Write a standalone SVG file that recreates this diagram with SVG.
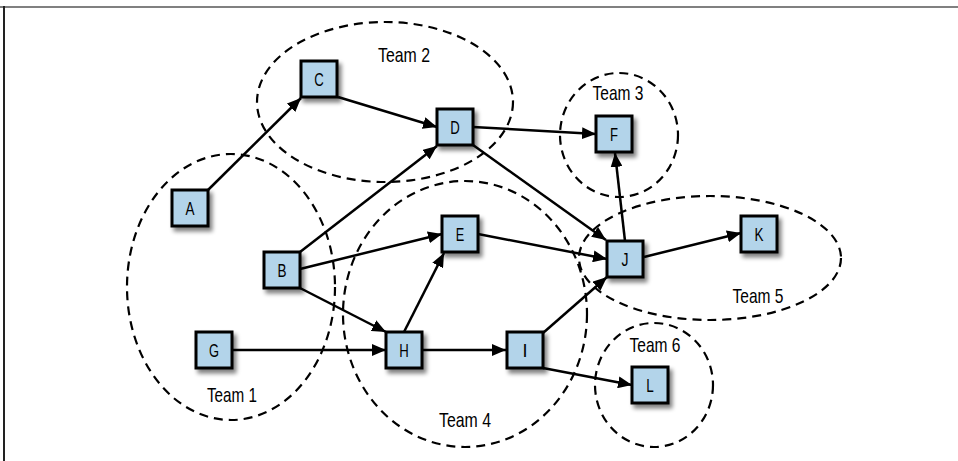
<svg xmlns="http://www.w3.org/2000/svg" width="958" height="461" viewBox="0 0 958 461">
<defs>
<marker id="ah" viewBox="0 0 14 12" refX="14" refY="6" markerWidth="14" markerHeight="12" markerUnits="userSpaceOnUse" orient="auto">
<path d="M0,0 L14,6 L0,12 Z" fill="#000"/>
</marker>
<filter id="sh" x="-30%" y="-30%" width="170%" height="170%">
<feGaussianBlur in="SourceAlpha" stdDeviation="2"/>
<feOffset dx="3" dy="4" result="b"/>
<feComponentTransfer><feFuncA type="linear" slope="0.5"/></feComponentTransfer>
<feMerge><feMergeNode/><feMergeNode in="SourceGraphic"/></feMerge>
</filter>
</defs>
<style>
.team{fill:none;stroke:#000;stroke-width:2.2;stroke-dasharray:9 6}
.box{fill:#b3d4ea;stroke:#000;stroke-width:3;filter:url(#sh)}
.lbl{font-family:"Liberation Sans Narrow","Liberation Sans",sans-serif;font-size:18px;fill:#000;text-anchor:middle}
.tl{font-family:"Liberation Sans Narrow","Liberation Sans",sans-serif;font-size:21px;fill:#000;text-anchor:middle}
.e{stroke:#000;stroke-width:2.5;fill:none;marker-end:url(#ah)}
</style>
<rect width="958" height="461" fill="#fff"/>
<line x1="0" y1="7" x2="958" y2="7" stroke="#808080" stroke-width="2"/>
<line x1="4" y1="6" x2="4" y2="461" stroke="#222" stroke-width="2"/>

<g id="teams">
<ellipse class="team" cx="231" cy="287" rx="104" ry="133"/>
<ellipse class="team" cx="385" cy="102" rx="128" ry="80"/>
<ellipse class="team" cx="619" cy="135" rx="59" ry="62"/>
<ellipse class="team" cx="465" cy="314" rx="122" ry="133"/>
<ellipse class="team" cx="710" cy="258" rx="131" ry="62"/>
<ellipse class="team" cx="654" cy="385" rx="59" ry="62"/>
<text class="tl" x="232" y="402" textLength="50" lengthAdjust="spacingAndGlyphs">Team 1</text>
<text class="tl" x="404" y="62" textLength="52" lengthAdjust="spacingAndGlyphs">Team 2</text>
<text class="tl" x="618" y="100" textLength="51" lengthAdjust="spacingAndGlyphs">Team 3</text>
<text class="tl" x="465" y="427" textLength="52" lengthAdjust="spacingAndGlyphs">Team 4</text>
<text class="tl" x="758" y="303" textLength="51" lengthAdjust="spacingAndGlyphs">Team 5</text>
<text class="tl" x="655" y="352" textLength="51" lengthAdjust="spacingAndGlyphs">Team 6</text>
</g>

<g id="connectors">
<line class="e" x1="208" y1="190" x2="301" y2="98"/>
<line class="e" x1="338" y1="97" x2="437" y2="127"/>
<line class="e" x1="473" y1="127" x2="596" y2="134"/>
<line class="e" x1="473" y1="145" x2="606" y2="240"/>
<line class="e" x1="300" y1="252" x2="437" y2="146"/>
<line class="e" x1="300" y1="269" x2="442" y2="234"/>
<line class="e" x1="300" y1="288" x2="386" y2="332"/>
<line class="e" x1="232" y1="350" x2="386" y2="350"/>
<line class="e" x1="404" y1="332" x2="444" y2="253"/>
<line class="e" x1="422" y1="350" x2="506" y2="350"/>
<line class="e" x1="478" y1="234" x2="607" y2="259"/>
<line class="e" x1="543" y1="333" x2="607" y2="277"/>
<line class="e" x1="543" y1="368" x2="632" y2="385"/>
<line class="e" x1="625" y1="241" x2="615" y2="153"/>
<line class="e" x1="644" y1="257" x2="741" y2="233"/>
</g>

<g id="A"><rect class="box" x="172" y="190" width="36" height="36"/><text class="lbl" x="190" y="214.5" textLength="9" lengthAdjust="spacingAndGlyphs">A</text></g>
<g id="C"><rect class="box" x="301" y="61" width="36" height="36"/><text class="lbl" x="319" y="85.5" textLength="9.5" lengthAdjust="spacingAndGlyphs">C</text></g>
<g id="D"><rect class="box" x="437" y="109" width="36" height="36"/><text class="lbl" x="455" y="133.5" textLength="9.5" lengthAdjust="spacingAndGlyphs">D</text></g>
<g id="E"><rect class="box" x="442" y="216" width="36" height="36"/><text class="lbl" x="460" y="240.5" textLength="8.5" lengthAdjust="spacingAndGlyphs">E</text></g>
<g id="B"><rect class="box" x="264" y="252" width="36" height="36"/><text class="lbl" x="282" y="276.5" textLength="9" lengthAdjust="spacingAndGlyphs">B</text></g>
<g id="G"><rect class="box" x="196" y="332" width="36" height="36"/><text class="lbl" x="214" y="356.5" textLength="10" lengthAdjust="spacingAndGlyphs">G</text></g>
<g id="H"><rect class="box" x="386" y="332" width="36" height="36"/><text class="lbl" x="404" y="356.5" textLength="9.5" lengthAdjust="spacingAndGlyphs">H</text></g>
<g id="F"><rect class="box" x="596" y="116" width="36" height="36"/><text class="lbl" x="614" y="140.5" textLength="8" lengthAdjust="spacingAndGlyphs">F</text></g>
<g id="J"><rect class="box" x="607" y="241" width="36" height="36"/><text class="lbl" x="625" y="265.5" textLength="7" lengthAdjust="spacingAndGlyphs">J</text></g>
<g id="K"><rect class="box" x="741" y="216" width="36" height="36"/><text class="lbl" x="759" y="240.5" textLength="9" lengthAdjust="spacingAndGlyphs">K</text></g>
<g id="I"><rect class="box" x="507" y="332" width="36" height="36"/><text class="lbl" x="525" y="356.5">I</text></g>
<g id="L"><rect class="box" x="632" y="367" width="36" height="36"/><text class="lbl" x="650" y="391.5" textLength="7.5" lengthAdjust="spacingAndGlyphs">L</text></g>
</svg>
